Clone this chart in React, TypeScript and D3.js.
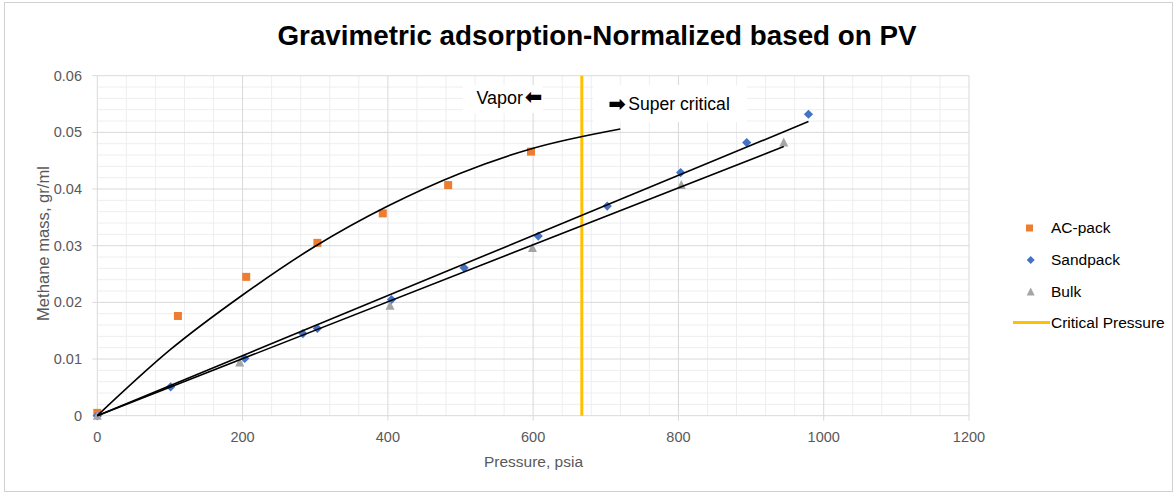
import React from "react";
import * as d3 from "d3";

// ---------- data ----------
const acPressure = [0, 111, 205, 303, 393, 483, 597];
const acMass = [0.0005, 0.0176, 0.0245, 0.0305, 0.0357, 0.0407, 0.0466];

const sandPressure = [0, 101, 203, 283, 303, 405, 505, 607, 702, 803, 894, 979];
const sandMass = [0, 0.0051, 0.0101, 0.0145, 0.0154, 0.0205, 0.0261, 0.0317, 0.037, 0.0429, 0.0482, 0.0532];

const bulkPressure = [0, 196, 403, 599, 804, 945];
const bulkMass = [0, 0.0094, 0.0194, 0.0296, 0.0407, 0.0482];

// trendlines as drawn in the reference
const acTrendPressure = [0, 100, 200, 300, 400, 500, 600, 720];
const acTrendMass = [0, 0.0116, 0.0213, 0.0299, 0.037, 0.0428, 0.0472, 0.0506];
const sandTrendPressure = [0, 979];
const sandTrendMass = [0, 0.0519];
const bulkTrendPressure = [0, 945];
const bulkTrendMass = [0, 0.0475];

const criticalPressure = 667;

const xTicks = [0, 200, 400, 600, 800, 1000, 1200];
const xTickLabels = ["0", "200", "400", "600", "800", "1000", "1200"];
const yTicks = [0, 0.01, 0.02, 0.03, 0.04, 0.05, 0.06];
const yTickLabels = ["0", "0.01", "0.02", "0.03", "0.04", "0.05", "0.06"];

const legendLabels = ["AC-pack", "Sandpack", "Bulk", "Critical Pressure"];

const title = "Gravimetric adsorption-Normalized based on PV";
const xTitle = "Pressure, psia";
const yTitle = "Methane mass, gr/ml";
const vaporLabel = "Vapor";
const superLabel = "Super critical";

// ---------- layout ----------
const W = 1176;
const H = 493;
const X0 = 97.3;
const X1 = 969;
const Y0 = 415.7;
const Y1 = 75.7;

const C_ORANGE = "#ED7D31";
const C_BLUE = "#4472C4";
const C_GRAY = "#A5A5A5";
const C_GOLD = "#FFC000";
const C_TEXT = "#595959";

const zip = (a: number[], b: number[]) => a.map((v, i) => [v, b[i]] as [number, number]);

export default function App() {
  const x = d3.scaleLinear().domain([0, 1200]).range([X0, X1]);
  const y = d3.scaleLinear().domain([0, 0.06]).range([Y0, Y1]);

  const minorX = d3.range(0, 1200.001, 40).filter((v) => Math.abs(v % 200) > 1e-6);
  const minorY = d3.range(0, 0.06001, 0.002).filter((v) => {
    const r = Math.round(v * 1000) % 10;
    return r !== 0;
  });

  const line = d3
    .line<[number, number]>()
    .x((d) => x(d[0]))
    .y((d) => y(d[1]));
  const curve = d3
    .line<[number, number]>()
    .x((d) => x(d[0]))
    .y((d) => y(d[1]))
    .curve(d3.curveMonotoneX);

  const sq = 8;
  const diamond = (cx: number, cy: number, r: number) =>
    `M${cx},${cy - r}L${cx + r},${cy}L${cx},${cy + r}L${cx - r},${cy}Z`;
  const tri = (cx: number, cy: number, s: number) =>
    `M${cx},${cy - s * 0.55}L${cx + s / 2},${cy + s * 0.45}L${cx - s / 2},${cy + s * 0.45}Z`;

  const legendX = 1051;
  const legendRows = [228, 260, 292, 322.5];

  return (
    <svg
      width={W}
      height={H}
      style={{ position: "absolute", left: 0, top: 0, background: "#fff" }}
      fontFamily='"Liberation Sans", Arial, sans-serif'
    >
      <rect x={0} y={0} width={W} height={H} fill="#fff" />
      <rect x={4.5} y={2.5} width={1168} height={489} fill="none" stroke="#d0d0d0" strokeWidth={1} />

      {/* title */}
      <text
        x={597}
        y={45}
        textAnchor="middle"
        fontSize={27.5}
        fontWeight="bold"
        fill="#000"
        textLength={639}
        lengthAdjust="spacingAndGlyphs"
      >
        {title}
      </text>

      {/* minor grid */}
      <g stroke="#eeeeee" strokeWidth={1}>
        {minorX.map((v) => (
          <line key={"mx" + v} x1={x(v)} x2={x(v)} y1={Y1} y2={Y0} />
        ))}
        {minorY.map((v) => (
          <line key={"my" + v} x1={X0} x2={X1} y1={y(v)} y2={y(v)} />
        ))}
      </g>
      {/* major grid */}
      <g stroke="#d9d9d9" strokeWidth={1}>
        {xTicks.map((v) => (
          <line key={"gx" + v} x1={x(v)} x2={x(v)} y1={Y1} y2={Y0} />
        ))}
        {yTicks.map((v) => (
          <line key={"gy" + v} x1={X0} x2={X1} y1={y(v)} y2={y(v)} />
        ))}
        {xTicks.map((v) => (
          <line key={"tx" + v} x1={x(v)} x2={x(v)} y1={Y0} y2={Y0 + 5} />
        ))}
        {yTicks.map((v) => (
          <line key={"ty" + v} x1={X0 - 5} x2={X0} y1={y(v)} y2={y(v)} />
        ))}
      </g>

      {/* annotation boxes */}
      <rect x={463} y={85} width={80} height={28} fill="#fff" />
      <rect x={593} y={85} width={154} height={37} fill="#fff" />
      <text x={476.5} y={103.5} fontSize={17.5} fill="#000" textLength={46.5} lengthAdjust="spacingAndGlyphs">
        {vaporLabel}
      </text>
      <text
        x={533.5}
        y={97}
        fontSize={21}
        fontWeight="bold"
        fill="#000"
        textAnchor="middle"
        dominantBaseline="central"
        fontFamily='"DejaVu Sans", sans-serif'
      >
        ⬅
      </text>
      <text
        x={617}
        y={103.5}
        fontSize={21}
        fontWeight="bold"
        fill="#000"
        textAnchor="middle"
        dominantBaseline="central"
        fontFamily='"DejaVu Sans", sans-serif'
      >
        ➡
      </text>
      <text x={628.3} y={110} fontSize={17.5} fill="#000" textLength={101.5} lengthAdjust="spacingAndGlyphs">
        {superLabel}
      </text>

      {/* critical pressure */}
      <line
        x1={x(criticalPressure)}
        x2={x(criticalPressure)}
        y1={y(0)}
        y2={y(0.06)}
        stroke={C_GOLD}
        strokeWidth={3}
      />

      {/* markers */}
      {zip(acPressure, acMass).map((d, i) => (
        <rect
          key={"ac" + i}
          x={x(d[0]) - sq / 2}
          y={y(d[1]) - sq / 2}
          width={sq}
          height={sq}
          fill={C_ORANGE}
        />
      ))}
      {zip(sandPressure, sandMass).map((d, i) => (
        <path key={"sp" + i} d={diamond(x(d[0]), y(d[1]), 4.6)} fill={C_BLUE} />
      ))}
      {zip(bulkPressure, bulkMass).map((d, i) => (
        <path key={"bk" + i} d={tri(x(d[0]), y(d[1]), 9)} fill={C_GRAY} />
      ))}

      {/* trendlines */}
      <path
        d={curve(zip(acTrendPressure, acTrendMass)) || ""}
        fill="none"
        stroke="#000"
        strokeWidth={1.6}
      />
      <path
        d={line(zip(sandTrendPressure, sandTrendMass)) || ""}
        fill="none"
        stroke="#000"
        strokeWidth={1.6}
      />
      <path
        d={line(zip(bulkTrendPressure, bulkTrendMass)) || ""}
        fill="none"
        stroke="#000"
        strokeWidth={1.6}
      />

      {/* tick labels */}
      <g fill={C_TEXT} fontSize={14.5}>
        {xTicks.map((v, i) => (
          <text key={"xl" + v} x={x(v)} y={441.7} textAnchor="middle">
            {xTickLabels[i]}
          </text>
        ))}
        {yTicks.map((v, i) => (
          <text key={"yl" + v} x={82} y={y(v) + 5} textAnchor="end">
            {yTickLabels[i]}
          </text>
        ))}
      </g>

      {/* axis titles */}
      <text
        x={533.5}
        y={466.7}
        textAnchor="middle"
        fontSize={15.5}
        fill={C_TEXT}
        textLength={99}
        lengthAdjust="spacingAndGlyphs"
      >
        {xTitle}
      </text>
      <text
        transform={`translate(49,${243.5}) rotate(-90)`}
        textAnchor="middle"
        fontSize={16}
        fill={C_TEXT}
        textLength={155}
        lengthAdjust="spacingAndGlyphs"
      >
        {yTitle}
      </text>

      {/* legend */}
      <rect x={1029.5 - 3.5} y={legendRows[0] - 3.5} width={7} height={7} fill={C_ORANGE} />
      <path d={diamond(1030.7, legendRows[1], 4)} fill={C_BLUE} />
      <path d={tri(1030.7, legendRows[2], 8)} fill={C_GRAY} />
      <line x1={1013} x2={1050} y1={legendRows[3]} y2={legendRows[3]} stroke={C_GOLD} strokeWidth={3} />
      <g fontSize={15.5} fill="#000">
        {legendLabels.map((t, i) => (
          <text key={t} x={legendX} y={legendRows[i] + 5} fill="#000">
            {t}
          </text>
        ))}
      </g>
    </svg>
  );
}
